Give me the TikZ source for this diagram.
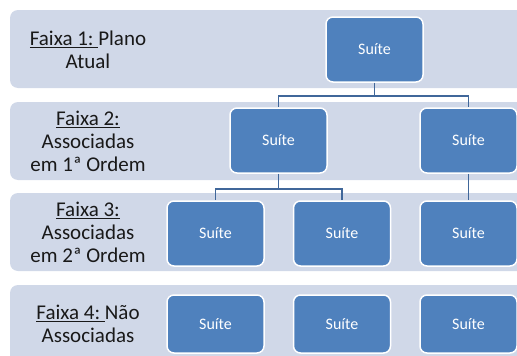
\documentclass[tikz,border=0pt]{standalone}
\usepackage{fontspec}
\setmainfont{Carlito}
\usepackage{tikz}

\definecolor{faixafill}{HTML}{D0D8E8}
\definecolor{suitefill}{HTML}{4F81BD}
\definecolor{linkblue}{HTML}{40679A}

\begin{document}
\begin{tikzpicture}[x=1pt, y=-1pt,
        suite/.style={draw=white, line width=1.5pt, fill=suitefill, rounded corners=7pt,
            minimum width=97pt, minimum height=65pt, text=white,
            font=\fontsize{16}{18}\selectfont},
        faixa/.style={align=center, text=black!90, font=\fontsize{21}{23}\selectfont},
        link/.style={draw=linkblue, line width=1.8pt}]
            \useasboundingbox (0,0) rectangle (517,356);
            \clip (0,0) rectangle (517,356);

            % faixas
            \fill[faixafill, rounded corners=8pt] (10,10) rectangle (545,88);
            \fill[faixafill, rounded corners=8pt] (10,102) rectangle (545,180);
            \fill[faixafill, rounded corners=8pt] (10,193) rectangle (545,271);
            \fill[faixafill, rounded corners=8pt] (10,285) rectangle (545,375);

            \node[faixa] (f1) at (88,50) {\underline{Faixa 1:\ }Plano\\Atual};
            \node[faixa] (f2) at (88,141) {\underline{Faixa 2:}\\Associadas\\em 1ª Ordem};
            \node[faixa] (f3) at (88,232) {\underline{Faixa 3:}\\Associadas\\em 2ª Ordem};
            \node[faixa] (f4) at (88,324) {\underline{Faixa 4:\ }Não\\Associadas};

            % Faixa 1
            \node[suite] (s1) at (374.5,49.5) {Suíte};

            % Faixa 2
            \node[suite] (s21) at (278.5,140.5) {Suíte};
            \node[suite] (s22) at (468.5,140.5) {Suíte};

            % Faixa 3
            \node[suite] (s31) at (215.5,233.5) {Suíte};
            \node[suite] (s32) at (342,233.5) {Suíte};
            \node[suite] (s33) at (468.5,233.5) {Suíte};

            % Faixa 4 (sem ligacoes)
            \node[suite, minimum height=58pt] (s41) at (215.5,324) {Suíte};
            \node[suite, minimum height=58pt] (s42) at (342,324) {Suíte};
            \node[suite, minimum height=58pt] (s43) at (468.5,324) {Suíte};

            % ligacoes
            \draw[link] (s1.south) -- ++(0,13) -| (s21.north);
            \draw[link] (s1.south) -- ++(0,13) -| (s22.north);
            \draw[link] (s21.south) -- ++(0,15) -| (s31.north);
            \draw[link] (s21.south) -- ++(0,15) -| (s32.north);
            \draw[link] (s22.south) -- (s33.north);
        \end{tikzpicture}
\end{document}
